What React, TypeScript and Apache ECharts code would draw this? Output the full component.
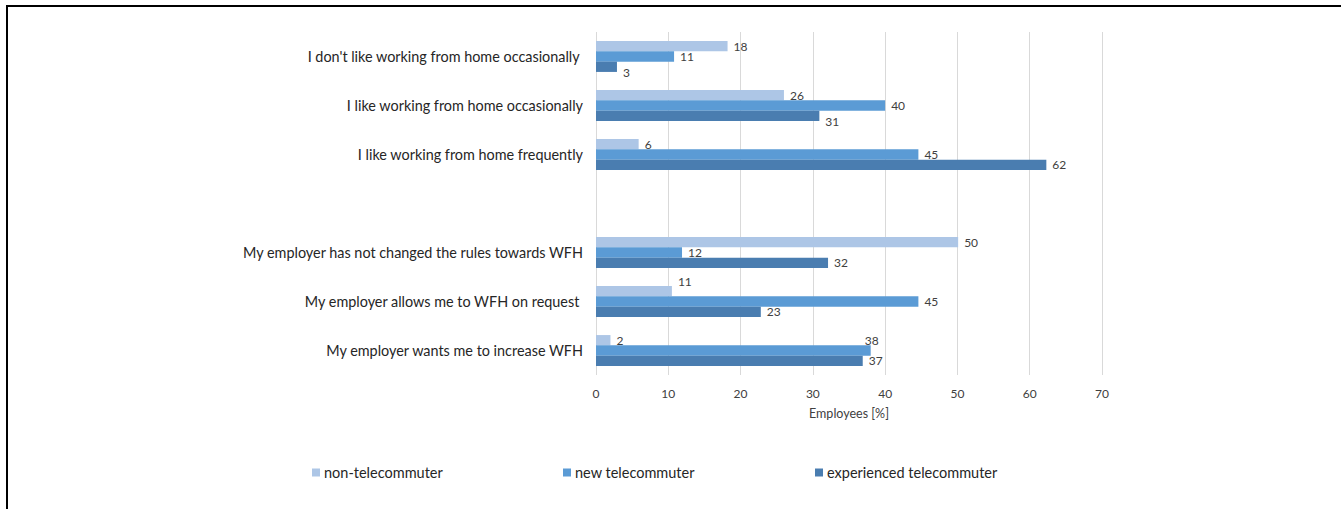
import React, { useEffect, useRef } from "react";
import * as echarts from "echarts";

const categories = [
  "I don't like working from home occasionally ",
  "I like working from home occasionally",
  "I like working from home frequently",
  "",
  "My employer has not changed the rules towards WFH",
  "My employer allows me to WFH on request ",
  "My employer wants me to increase WFH",
];

const seriesNames = ["non-telecommuter", "new telecommuter", "experienced telecommuter"];

const nonTelecommuter = [18.2, 26.0, 5.9, null, 50.1, 10.5, 2.0];
const newTelecommuter = [10.8, 40.0, 44.6, null, 11.9, 44.6, 38.0];
const experiencedTelecommuter = [2.9, 30.9, 62.3, null, 32.1, 22.8, 36.9];

const xTicks = { min: 0, max: 70, interval: 10 };

const colors = ["#adc6e6", "#5b9bd5", "#4a7db0"];
const FONT = "Lato";

// label offsets (styling) keyed by series index -> category index
const labelOffsets: Record<number, Record<number, [number, number]>> = {
  0: { 5: [0, -10] },
  1: { 6: [-12, -10] },
  2: { 0: [0, 6], 1: [0, 6] },
};

export default function App() {
  const ref = useRef<HTMLDivElement>(null);
  useEffect(() => {
    if (!ref.current) return;
    const chart = echarts.init(ref.current, undefined, { renderer: "svg" });
    const allValues = [nonTelecommuter, newTelecommuter, experiencedTelecommuter];
    const series = allValues.map((vals, si) => ({
      name: seriesNames[si],
      type: "bar",
      barGap: "0%",
      barCategoryGap: "37%",
      itemStyle: { color: colors[si] },
      label: {
        show: true,
        position: "right",
        distance: 6,
        fontFamily: FONT,
        fontSize: 12,
        color: "#404040",
        formatter: (p: any) => (p.value == null ? "" : String(Math.round(p.value))),
      },
      data: vals.map((v, ci) => {
        const off = labelOffsets[si] && labelOffsets[si][ci];
        return off ? { value: v, label: { offset: off } } : { value: v };
      }),
    }));
    chart.setOption({
      animation: false,
      textStyle: { fontFamily: FONT },
      grid: { left: 596, right: 239, top: 32, bottom: 134, containLabel: false },
      xAxis: {
        type: "value",
        min: xTicks.min,
        max: xTicks.max,
        interval: xTicks.interval,
        axisLine: { show: false },
        axisTick: { show: false },
        splitLine: { show: true, lineStyle: { color: "#d9d9d9", width: 1 } },
        axisLabel: { color: "#404040", fontSize: 12, margin: 12, fontFamily: FONT },
        name: "Employees [%]",
        nameLocation: "middle",
        nameGap: 32,
        nameTextStyle: { color: "#404040", fontSize: 12.5, fontFamily: FONT },
      },
      yAxis: {
        type: "category",
        inverse: true,
        data: categories,
        axisLine: { show: false },
        axisTick: { show: false },
        splitLine: { show: false },
        axisLabel: { color: "#262626", fontSize: 14.4, margin: 13, fontFamily: FONT },
      },
      legend: [
        { data: [seriesNames[0]], left: 312, top: 465 },
        { data: [seriesNames[1]], left: 563, top: 465 },
        { data: [seriesNames[2]], left: 815, top: 465 },
      ].map((l) => ({
        ...l,
        icon: "rect",
        itemWidth: 8,
        itemHeight: 8,
        itemGap: 4,
        padding: 0,
        selectedMode: false,
        textStyle: { color: "#262626", fontSize: 14.5, fontFamily: FONT, padding: [0, 0, 0, -1] },
      })),
      graphic: [
        { type: "rect", shape: { x: 6, y: 5, width: 2, height: 504 }, style: { fill: "#000" } },
        { type: "rect", shape: { x: 6, y: 5, width: 1335, height: 2 }, style: { fill: "#000" } },
      ],
      series,
    });
    return () => chart.dispose();
  }, []);
  return (
    <div
      ref={ref}
      style={{ position: "fixed", left: 0, top: 0, width: 1341, height: 509, background: "#fff" }}
    />
  );
}
